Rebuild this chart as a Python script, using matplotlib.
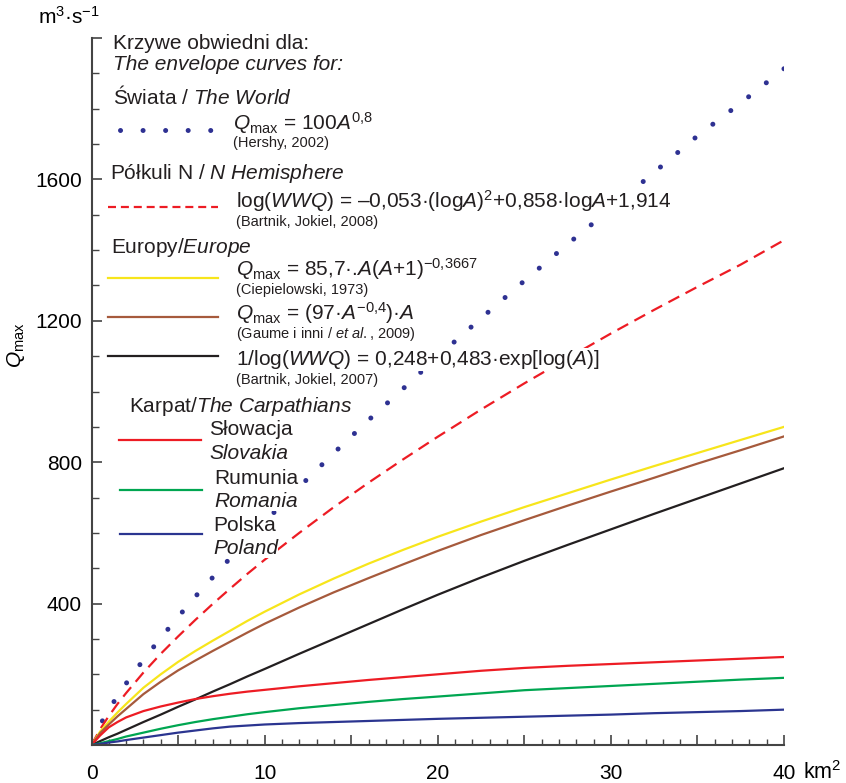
import matplotlib
matplotlib.use("Agg")
import matplotlib.pyplot as plt
from matplotlib.lines import Line2D
from matplotlib.ticker import MultipleLocator, FuncFormatter

plt.rcParams['font.family'] = ['Liberation Sans', 'DejaVu Sans']
plt.rcParams['mathtext.fontset'] = 'custom'
plt.rcParams['mathtext.rm'] = 'Liberation Sans'
plt.rcParams['mathtext.it'] = 'Liberation Sans:italic'
plt.rcParams['mathtext.bf'] = 'Liberation Sans:bold'

# catchment area A [km2] and envelope curves Q_max [m3/s]
area = [0, 0.5, 1, 1.5, 2, 3, 4, 5, 6, 7, 8, 9, 10, 12, 14, 16, 18, 20,
        22.5, 25, 27.5, 30, 32.5, 35, 37.5, 40]
world = [0, 57, 100, 138, 174, 241, 303, 362, 420, 474, 528, 580, 631, 730, 826, 919, 1008, 1099,
         1207, 1313, 1417, 1517, 1620, 1723, 1816, 1913]
n_hemisphere = [0, 45, 82, 116, 147, 205, 258, 307, 354, 399, 442, 484, 524, 600, 673, 742, 808, 872,
                949, 1023, 1094, 1164, 1231, 1296, 1359, 1428]
europe_ciep = [0, 38, 66, 92, 116, 162, 200, 235, 266, 295, 323, 351, 377, 426, 471, 513, 552, 589,
               632, 673, 712, 751, 789, 826, 863, 900]
europe_gaume = [0, 34, 58, 81, 102, 144, 179, 211, 239, 266, 292, 318, 343, 389, 432, 472, 511, 549,
                594, 636, 677, 717, 756, 796, 834, 873]
europe_bartnik = [0, 11, 22, 32, 43, 65, 86, 108, 129, 151, 172, 194, 215, 258, 300, 342, 384, 425,
                  474, 521, 566, 610, 654, 697, 740, 783]
slovakia = [0, 27, 50, 65, 78, 96, 109, 120, 130, 138, 145, 151, 156, 166, 175, 184, 192, 200,
            210, 218, 224, 229, 234, 239, 244, 249]
romania = [0, 5, 11, 17, 24, 35, 46, 56, 65, 73, 80, 87, 93, 104, 113, 122, 130, 137,
           146, 155, 161, 167, 173, 179, 185, 190]
poland = [0, 3, 7, 10, 14, 21, 28, 35, 41, 47, 52, 55, 58, 62, 65, 68, 71, 74,
          77, 80, 83, 86, 90, 93, 96, 100]

NAVY = '#2e3192'
RED = '#ed1c24'
YELLOW = '#f7e51b'
BROWN = '#a65a3c'
BLACK = '#231f20'
GREEN = '#00a651'
BLUE = '#2b3590'

W, H = 846, 783
fig = plt.figure(figsize=(W / 100, H / 100), dpi=100)
ax = fig.add_axes([91.5 / W, 1 - 745 / H, (784 - 91.5) / W, (745 - 38) / H])

dots = dict(color=NAVY, lw=3.6, linestyle=(0, (0.01, 4.5)), dash_capstyle='round')
dashes = dict(color=RED, lw=1.6, linestyle=(0, (5.5, 3.2)))

# dotted World curve drawn from its upper end so a dot sits at A = 40
ax.plot(area[::-1], world[::-1], **dots)
ax.plot(area, n_hemisphere, **dashes)
ax.plot(area, europe_ciep, color=YELLOW, lw=1.6)
ax.plot(area, europe_gaume, color=BROWN, lw=1.6)
ax.plot(area, europe_bartnik, color=BLACK, lw=1.6)
ax.plot(area, slovakia, color=RED, lw=1.6)
ax.plot(area, romania, color=GREEN, lw=1.6)
ax.plot(area, poland, color=BLUE, lw=1.6)

ax.set_xlim(0, 40)
ax.set_ylim(0, 2000)
for s in ['top', 'right']:
    ax.spines[s].set_visible(False)
for s in ['left', 'bottom']:
    ax.spines[s].set_color('#444444')
    ax.spines[s].set_linewidth(1.5)

ax.xaxis.set_major_locator(MultipleLocator(5))
ax.xaxis.set_minor_locator(MultipleLocator(1))
ax.xaxis.set_major_formatter(FuncFormatter(lambda v, p: '%d' % v if v % 10 == 0 else ''))
ax.yaxis.set_major_locator(MultipleLocator(400))
ax.yaxis.set_minor_locator(MultipleLocator(100))
ax.yaxis.set_major_formatter(FuncFormatter(lambda v, p: '%d' % v if 0 < v < 2000 else ''))
ax.tick_params(axis='x', which='major', direction='in', length=7, width=1.2,
               color='#444444', labelsize=15, pad=14)
ax.tick_params(axis='x', which='minor', direction='in', length=4, width=1.0, color='#444444')
ax.tick_params(axis='y', which='major', direction='in', length=7, width=1.2,
               color='#444444', labelsize=15, pad=7)
ax.tick_params(axis='y', which='minor', direction='in', length=5, width=1.0, color='#444444')


def fx(x):
    return x / W


def fy(y):
    return 1 - y / H


def label(x, y, s, size=15, **kw):
    fig.text(fx(x), fy(y), s, fontsize=size, va='baseline', ha='left', color='#231f20',
             zorder=5, bbox=dict(facecolor='white', edgecolor='none', pad=0), **kw)


def sample(x0, x1, y, **kw):
    fig.add_artist(Line2D([fx(x0), fx(x1)], [fy(y), fy(y)], transform=fig.transFigure, **kw))


# axis units
fig.text(fx(38), fy(24), r'm$^{\mathrm{3}}$·s$^{\mathrm{-1}}$', fontsize=15, va='baseline')
fig.text(fx(803), fy(779), r'km$^{\mathrm{2}}$', fontsize=15.5, va='baseline')
fig.text(fx(16), fy(345), r'$Q_{\mathrm{max}}$', fontsize=15, rotation=90, ha='center', va='center')

# legend block
label(113, 49, 'Krzywe obwiedni dla:')
label(113, 70, 'The envelope curves for:', style='italic')
label(113, 104, r'Świata / $\mathit{The\ World}$')
sample(120, 211, 130, **dots)
label(233, 130, r'$Q_{\mathrm{max}}$ = 100$A^{\mathrm{0{,}8}}$')
label(233, 147, '(Hershy, 2002)', size=10.5)

label(110, 179, r'Półkuli N / $\mathit{N\ Hemisphere}$')
sample(108, 218, 207, color=RED, lw=1.6, linestyle=(0, (3.6, 2.2)))
label(236, 208, r'log($WWQ$) = –0,053·(log$A$)$^{\mathrm{2}}$+0,858·log$A$+1,914')
label(236, 226, '(Bartnik, Jokiel, 2008)', size=10.5)

label(111, 253, r'Europy/$\mathit{Europe}$')
sample(108, 218, 278, color=YELLOW, lw=1.6)
label(236, 276, r'$Q_{\mathrm{max}}$ = 85,7·.$A$($A$+1)$^{\mathrm{-0{,}3667}}$')
label(236, 294, '(Ciepielowski, 1973)', size=10.5)
sample(108, 218, 317, color=BROWN, lw=1.6)
label(236, 320, r'$Q_{\mathrm{max}}$ = (97·$A^{\mathrm{-0{,}4}}$)·$A$')
label(236, 338, r'(Gaume i inni / $\mathit{et\ al.}$, 2009)', size=10.5)
sample(108, 218, 356, color=BLACK, lw=1.6)
label(236, 365, r'1/log($WWQ$) = 0,248+0,483·exp[log($A$)]')
label(236, 384, '(Bartnik, Jokiel, 2007)', size=10.5)

label(129, 412, r'Karpat/$\mathit{The\ Carpathians}$')
sample(119, 201, 440, color=RED, lw=1.6)
label(209, 435, 'Słowacja')
label(209, 459, 'Slovakia', style='italic')
sample(120, 202, 490, color=GREEN, lw=1.6)
label(214, 484, 'Rumunia')
label(214, 507, 'Romania', style='italic')
sample(120, 202, 534, color=BLUE, lw=1.6)
label(213, 531, 'Polska')
label(213, 554, 'Poland', style='italic')

fig.savefig('out.png', dpi=100)
